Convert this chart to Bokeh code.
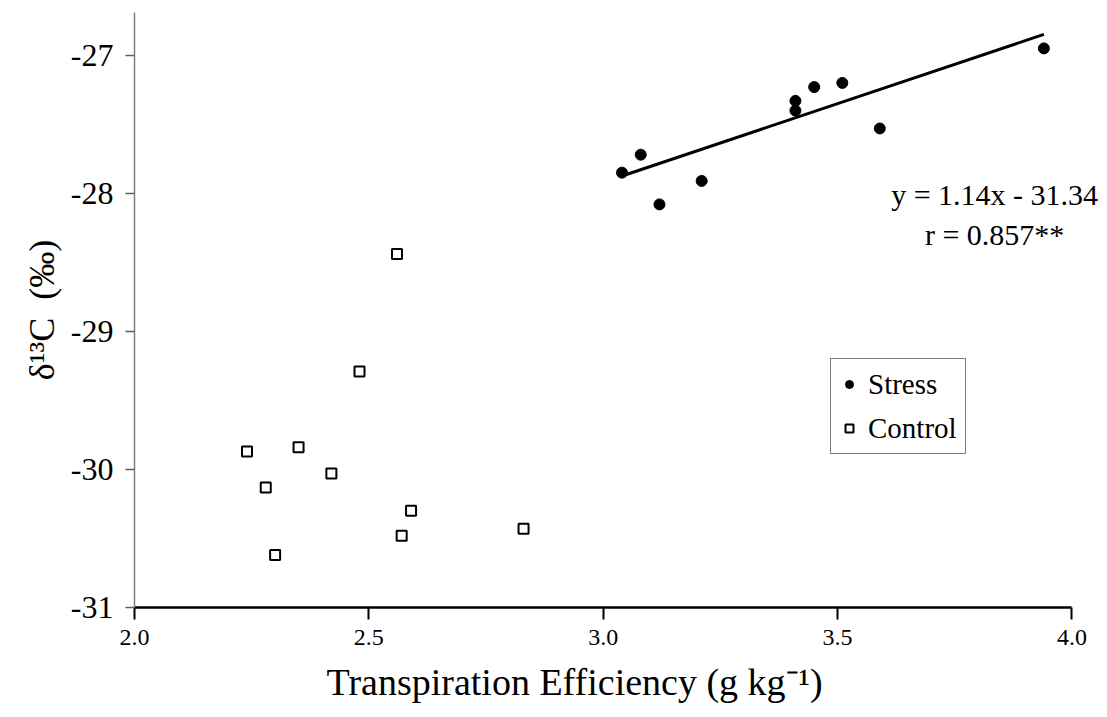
from bokeh.plotting import figure
from bokeh.models import Label, Legend, LegendItem, FixedTicker, Range1d, Title
from bokeh.embed import file_html
from bokeh.resources import INLINE

# ---- data ----
stress_x = [3.04, 3.08, 3.12, 3.21, 3.41, 3.41, 3.45, 3.51, 3.59, 3.94]
stress_y = [-27.85, -27.72, -28.08, -27.91, -27.33, -27.40, -27.23, -27.20, -27.53, -26.95]

control_x = [2.56, 2.48, 2.24, 2.35, 2.42, 2.28, 2.59, 2.57, 2.83, 2.30]
control_y = [-28.44, -29.29, -29.87, -29.84, -30.03, -30.13, -30.30, -30.48, -30.43, -30.62]

series_names = ["Stress", "Control"]

x_ticks = [2.0, 2.5, 3.0, 3.5, 4.0]
x_tick_labels = ["2.0", "2.5", "3.0", "3.5", "4.0"]
y_ticks = [-31, -30, -29, -28, -27]
y_tick_labels = ["-31", "-30", "-29", "-28", "-27"]

slope = 1.14
intercept = -31.34
eq_text = "y = 1.14x - 31.34"
r_text = "r = 0.857**"

x_title = "Transpiration Efficiency (g kg⁻¹)"
y_title = "δ¹³C\u00a0\u00a0(‰)"

FONT = "Liberation Serif"

p = figure(frame_width=971, frame_height=595,
           x_range=Range1d(2.0, 4.0715), y_range=Range1d(-31.0, -26.69),
           output_backend="svg", toolbar_location=None,
           min_border_left=134, min_border_right=0,
           min_border_top=12, min_border_bottom=108,
           background_fill_color="white", border_fill_color="white")
p.xgrid.visible = False
p.ygrid.visible = False
p.outline_line_color = None

# x axis
xa = p.xaxis[0]
xa.ticker = FixedTicker(ticks=x_ticks)
xa.bounds = (2.0, 4.0)
xa.major_label_overrides = {t: l for t, l in zip(x_ticks, x_tick_labels)}
xa.axis_line_color = "black"
xa.axis_line_width = 2.5
xa.major_tick_line_color = "black"
xa.major_tick_line_width = 2
xa.major_tick_out = 12
xa.major_tick_in = 0
xa.minor_tick_line_color = None
xa.major_label_text_font = FONT
xa.major_label_text_font_size = "24px"
xa.major_label_text_color = "black"
xa.major_label_standoff = 10

# y axis
ya = p.yaxis[0]
ya.ticker = FixedTicker(ticks=y_ticks)
ya.major_label_overrides = {t: l for t, l in zip(y_ticks, y_tick_labels)}
ya.axis_line_color = "#808080"
ya.axis_line_width = 1.5
ya.major_tick_line_color = "#606060"
ya.major_tick_line_width = 1.5
ya.major_tick_out = 9
ya.major_tick_in = 0
ya.minor_tick_line_color = None
ya.major_label_text_font = FONT
ya.major_label_text_font_size = "32px"
ya.major_label_text_color = "black"
ya.major_label_standoff = 12
ya.axis_label = y_title
ya.axis_label_text_font = FONT
ya.axis_label_text_font_style = "normal"
ya.axis_label_text_font_size = "36px"
ya.axis_label_text_color = "black"
ya.axis_label_standoff = 6

# data
r_stress = p.scatter(stress_x, stress_y, marker="circle", size=11,
                     fill_color="black", line_color="black")
r_control = p.scatter(control_x, control_y, marker="square", size=10,
                      fill_color="white", line_color="black", line_width=2)

x0, x1 = min(stress_x), max(stress_x)
p.line([x0, x1], [slope * x0 + intercept, slope * x1 + intercept],
       line_color="black", line_width=3)

legend = Legend(items=[LegendItem(label=series_names[0], renderers=[r_stress]),
                       LegendItem(label=series_names[1], renderers=[r_control])],
                location=(696, 153),
                border_line_color="black", border_line_width=1,
                background_fill_color="white", background_fill_alpha=1,
                label_text_font=FONT, label_text_font_size="29px",
                label_text_color="black",
                glyph_width=20, glyph_height=34, label_height=34,
                spacing=10, padding=8, label_standoff=9, margin=0)
p.add_layout(legend, "center")

# regression annotation
p.add_layout(Label(x=3.835, y=-28.005, text=eq_text, text_align="center",
                   text_baseline="alphabetic", text_font=FONT,
                   text_font_size="30px", text_color="black"))
p.add_layout(Label(x=3.835, y=-28.295, text=r_text, text_align="center",
                   text_baseline="alphabetic", text_font=FONT,
                   text_font_size="30px", text_color="black"))

# x axis title
p.add_layout(Title(text=x_title, align="left", offset=192,
                   text_font=FONT, text_font_size="38px",
                   text_font_style="normal", text_color="black",
                   standoff=23), "below")

open("out.html", "w").write(file_html(p, INLINE))
